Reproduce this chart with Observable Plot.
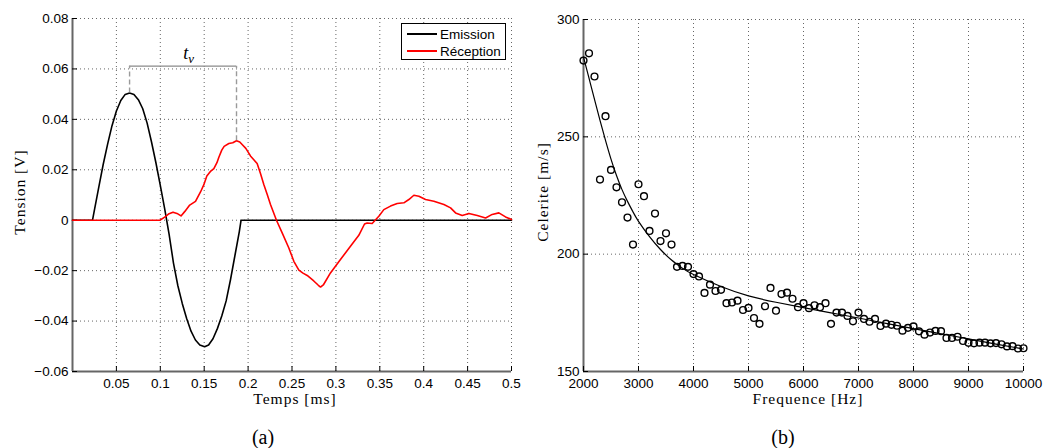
<!DOCTYPE html>
<html><head><meta charset="utf-8">
<script src="https://cdn.jsdelivr.net/npm/d3@7"></script>
<script src="https://cdn.jsdelivr.net/npm/@observablehq/plot@0.6"></script>
<style>
body{margin:0;background:#fff;}
#wrap{position:relative;width:1044px;height:448px;overflow:hidden;background:#fff;}
.panel{position:absolute;top:0;}
.panel svg{overflow:visible;}
.ser{position:absolute;font-family:"Liberation Serif","DejaVu Serif",serif;color:#000;white-space:nowrap;}
.ax{font-size:15.5px;letter-spacing:1px;}
.cap{font-size:20px;}
.legend{position:absolute;border:1.3px solid #000;background:#fff;font-family:"Liberation Sans",Arial,sans-serif;font-size:13.5px;color:#000;}
.legend .row{position:absolute;left:5px;height:16px;display:flex;align-items:center;}
.legend .sw{display:inline-block;width:30px;height:1.7px;margin-right:3px;}
</style></head><body>
<div id="wrap">
  <div id="pa" class="panel" style="left:0"></div>
  <div id="pb" class="panel" style="left:520px"></div>
</div>
<script>
// ---------- Panel (a): signals ----------
const emissionT = [0, 0.0228, 0.025, 0.03, 0.035, 0.04, 0.045, 0.05, 0.055, 0.06, 0.065, 0.07, 0.075, 0.08, 0.085, 0.09, 0.095, 0.1, 0.105, 0.11, 0.115, 0.12, 0.125, 0.13, 0.135, 0.14, 0.145, 0.1505, 0.155, 0.16, 0.165, 0.17, 0.175, 0.18, 0.185, 0.19, 0.192, 0.3, 0.4, 0.5];
const emissionV = [0, 0, 0.0041, 0.0132, 0.0222, 0.0302, 0.0375, 0.0433, 0.0475, 0.0499, 0.0505, 0.0499, 0.0478, 0.0442, 0.0385, 0.0310, 0.0228, 0.0138, 0.0045, -0.0055, -0.017, -0.026, -0.033, -0.039, -0.044, -0.0475, -0.0495, -0.0502, -0.0495, -0.047, -0.043, -0.038, -0.032, -0.0235, -0.014, -0.0045, 0, 0, 0, 0];

const receptionT = [0, 0.05, 0.0995, 0.105, 0.11, 0.1145, 0.119, 0.1236, 0.128, 0.1335, 0.1401, 0.1458, 0.1495, 0.153, 0.1575, 0.161, 0.1645, 0.1667, 0.17, 0.1727, 0.1781, 0.1825, 0.1868, 0.1905, 0.1932, 0.1974, 0.2027, 0.2065, 0.2103, 0.2141, 0.2179, 0.2217, 0.2255, 0.2323, 0.2388, 0.2464, 0.2521, 0.2578, 0.2625, 0.2673, 0.2748, 0.28, 0.2825, 0.286, 0.2938, 0.3052, 0.3166, 0.3261, 0.3326, 0.3356, 0.3413, 0.3489, 0.3546, 0.3622, 0.3698, 0.3774, 0.3831, 0.3888, 0.3945, 0.4021, 0.4116, 0.423, 0.4306, 0.4363, 0.4439, 0.4515, 0.461, 0.4705, 0.478, 0.4856, 0.4932, 0.5];
const receptionV = [0, 0, 0, 0.0012, 0.0026, 0.0032, 0.0027, 0.0017, 0.0035, 0.006, 0.0075, 0.0112, 0.014, 0.0175, 0.0195, 0.0205, 0.0228, 0.025, 0.0278, 0.0293, 0.0304, 0.0307, 0.0315, 0.031, 0.03, 0.0285, 0.0255, 0.024, 0.0225, 0.0185, 0.0142, 0.0103, 0.0062, 0, -0.005, -0.011, -0.0163, -0.0198, -0.021, -0.0219, -0.0241, -0.0258, -0.0265, -0.0255, -0.0209, -0.0156, -0.0103, -0.006, -0.0015, -0.0011, -0.0013, 0.0016, 0.0042, 0.0056, 0.0066, 0.0069, 0.0082, 0.0099, 0.0095, 0.0082, 0.0075, 0.0062, 0.0049, 0.0029, 0.0019, 0.0027, 0.0019, 0.0009, 0.0023, 0.0029, 0.0013, 0.0003];

const seriesNames = ["Emission", "Réception"];
const seriesColors = ["#000000", "#ff0000"];
const bracketLevel = 0.0611;
const xTicksA = [0.05, 0.1, 0.15, 0.2, 0.25, 0.3, 0.35, 0.4, 0.45, 0.5];
const yTicksA = [-0.06, -0.04, -0.02, 0, 0.02, 0.04, 0.06, 0.08];
const xDomainA = [0, 0.5];
const yDomainA = [-0.06, 0.08];

// ---------- Panel (b): celerity ----------
const freqHz = [2000,2100,2200,2300,2400,2500,2600,2700,2800,2900,3000,3100,3200,3300,3400,3500,3600,3700,3800,3900,4000,4100,4200,4300,4400,4500,4600,4700,4800,4900,5000,5100,5200,5300,5400,5500,5600,5700,5800,5900,6000,6100,6200,6300,6400,6500,6600,6700,6800,6900,7000,7100,7200,7300,7400,7500,7600,7700,7800,7900,8000,8100,8200,8300,8400,8500,8600,8700,8800,8900,9000,9100,9200,9300,9400,9500,9600,9700,9800,9900,10000];
const celerite = [282.5,285.6,275.7,231.8,258.8,235.9,228.5,222.1,215.6,204.1,229.8,224.7,209.9,217.3,205.6,208.9,204.1,194.6,195.0,194.6,191.5,190.5,183.5,187.0,184.3,184.8,179.1,179.4,180.2,176.2,177.1,172.8,170.3,177.8,185.6,175.9,183.0,183.6,181.0,177.4,179.1,177.0,178.2,177.4,179.1,170.3,175.1,175.1,173.7,171.4,175.1,172.4,171.2,172.4,169.4,170.4,169.9,169.5,167.4,168.6,169.2,167.1,165.7,166.6,167.3,167.2,164.3,164.3,164.8,163.0,162.2,162.0,162.3,162.3,162.0,162.1,161.6,160.7,160.8,159.8,159.9];
const fitF = [2000,2100,2200,2300,2400,2500,2600,2700,2800,2900,3000,3200,3400,3600,3800,4000,4500,5000,5500,6000,6500,7000,7500,8000,8500,9000,9500,10000];
const fitV = [284,275,266,257,248.5,240.5,233.5,227.5,222.5,218,214,207.5,202,197.5,194,191.3,186.2,182.2,179.5,177.2,175,172.8,170.5,168.3,166.1,163.9,161.7,159.6];
const xTicksB = [2000,3000,4000,5000,6000,7000,8000,9000,10000];
const yTicksB = [150,200,250,300];
const xDomainB = [2000, 10000];
const yDomainB = [150, 300];

const emission = emissionT.map((t,i)=>({t, v: emissionV[i]}));
const reception = receptionT.map((t,i)=>({t, v: receptionV[i]}));
const points = freqHz.map((f,i)=>({f, c: celerite[i]}));
const fit = fitF.map((f,i)=>({f, c: fitV[i]}));

const iE = d3.maxIndex(emission, d=>d.v);
const iR = d3.maxIndex(reception, d=>d.v);
const peaks = [emission[iE], reception[iR]];

const tickStyle = {fontFamily:'"Liberation Sans",Arial,sans-serif', fontSize:"13.5px", background:"transparent", overflow:"visible", color:"#000"};
const gridOpt = {stroke:"#666", strokeOpacity:1, strokeWidth:1, strokeDasharray:"1,3"};

const pa = Plot.plot({
  width: 520, height: 395,
  marginLeft: 72, marginRight: 9, marginTop: 18, marginBottom: 24,
  style: tickStyle,
  x: {domain: xDomainA},
  y: {domain: yDomainA},
  marks: [
    Plot.gridX(xTicksA, gridOpt),
    Plot.gridY(yTicksA, gridOpt),
    Plot.ruleX([xDomainA[0]], {stroke:"#666", strokeWidth:2}),
    Plot.ruleY([yDomainA[0]], {stroke:"#666", strokeWidth:2}),
    Plot.axisX(xTicksA, {tickSize:-5, tickPadding:12, tickFormat: d=>String(d), label:null, stroke:"#000"}),
    Plot.axisY(yTicksA, {tickSize:-5, tickPadding:9, tickFormat: d=> d===0 ? "0" : d3.format(".2f")(d), label:null, stroke:"#000"}),
    Plot.line(emission, {x:"t", y:"v", stroke: seriesColors[0], strokeWidth:1.6}),
    Plot.line(reception, {x:"t", y:"v", stroke: seriesColors[1], strokeWidth:1.6}),
    Plot.ruleY([bracketLevel], {x1: peaks[0].t, x2: peaks[1].t, stroke:"#8a8a8a", strokeWidth:1.3}),
    Plot.ruleX(peaks, {x:"t", y1:"v", y2: ()=>bracketLevel, stroke:"#9a9a9a", strokeWidth:1.4, strokeDasharray:"5,3"})
  ]
});
document.getElementById("pa").appendChild(pa);

const pb = Plot.plot({
  width: 524, height: 395,
  marginLeft: 63, marginRight: 21, marginTop: 19, marginBottom: 24,
  style: tickStyle,
  x: {domain: xDomainB},
  y: {domain: yDomainB},
  marks: [
    Plot.gridX(xTicksB, gridOpt),
    Plot.gridY(yTicksB, gridOpt),
    Plot.ruleX([xDomainB[0]], {stroke:"#666", strokeWidth:2}),
    Plot.ruleY([yDomainB[0]], {stroke:"#666", strokeWidth:2}),
    Plot.axisX(xTicksB, {tickSize:-5, tickPadding:12, tickFormat: d=>String(d), label:null, stroke:"#000"}),
    Plot.axisY(yTicksB, {tickSize:-5, tickPadding:9, tickFormat: d=>String(d), label:null, stroke:"#000"}),
    Plot.line(fit, {x:"f", y:"c", stroke:"#000", strokeWidth:1.2, curve:"natural"}),
    Plot.dot(points, {x:"f", y:"c", r:3.4, stroke:"#000", strokeWidth:1.4, fill:"none"})
  ]
});
document.getElementById("pb").appendChild(pb);

const wrap = document.getElementById("wrap");
function addText(html, cls, left, top, extra){
  const d = document.createElement("div");
  d.className = "ser " + cls;
  d.innerHTML = html;
  d.style.left = left + "px"; d.style.top = top + "px";
  d.style.transform = "translate(-50%,-50%)" + (extra||"");
  wrap.appendChild(d);
}
addText("Temps [ms]", "ax", 295, 399);
addText("Tension [V]", "ax", 20, 192, " rotate(-90deg)");
addText("Frequence [Hz]", "ax", 808, 399);
addText("Celerite [m/s]", "ax", 543, 192, " rotate(-90deg)");
addText("(a)", "cap", 263, 437);
addText("(b)", "cap", 783, 437);

// t_v label positioned through panel (a) scales
const sx = pa.scale("x"), sy = pa.scale("y");
const midT = (peaks[0].t + peaks[1].t) / 2;
const tv = document.createElement("div");
tv.className = "ser";
tv.style.fontSize = "18px";
tv.innerHTML = "<i>t</i><sub style='font-size:13px'><i>v</i></sub>";
tv.style.left = (sx.apply(midT) + 6) + "px";
tv.style.top = (sy.apply(bracketLevel) - 11) + "px";
tv.style.transform = "translate(-50%,-50%)";
wrap.appendChild(tv);

// legend
const lg = document.createElement("div");
lg.className = "legend";
lg.style.left = "401px"; lg.style.top = "23px"; lg.style.width = "103px"; lg.style.height = "35px";
seriesNames.forEach((n,i)=>{
  const r = document.createElement("div");
  r.className = "row";
  r.style.top = (2 + i*17) + "px";
  r.innerHTML = `<span class="sw" style="background:${seriesColors[i]}"></span><span>${n}</span>`;
  lg.appendChild(r);
});
wrap.appendChild(lg);
</script>
</body></html>
